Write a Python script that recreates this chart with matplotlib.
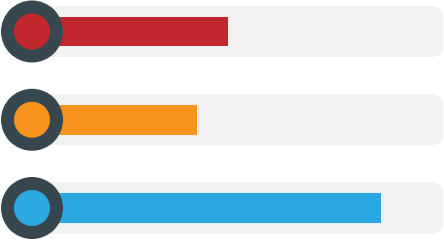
import matplotlib.pyplot as plt
from matplotlib.patches import Ellipse, FancyBboxPatch

# data
labels = ["red", "orange", "blue"]
values = [47.8, 40.2, 84.8]
track_max = 100
bar_colors = ["#C1272D", "#F7941D", "#29A9E0"]
ring_color = "#37474F"
track_color = "#F1F1F1"

# layout (pixels -> data units)
W, H = 444, 240
x0_px = 32          # where value 0 sits (circle centre)
px_per_x = 4.11     # pixels per value unit
row0_px = 31.5      # centre of first row
px_per_y = 88.25    # row spacing

fig = plt.figure(figsize=(W / 100, H / 100), dpi=100)
ax = fig.add_axes([0, 0, 1, 1])
ax.set_xlim(-x0_px / px_per_x, (W - x0_px) / px_per_x)
ax.set_ylim((H - row0_px) / px_per_y, -row0_px / px_per_y)
ax.axis("off")

ys = list(range(len(values)))
track_h = 51 / px_per_y
bar_h = 29.5 / px_per_y

for y in ys:
    track = FancyBboxPatch((0, y - track_h / 2), track_max, track_h,
                           boxstyle="round,pad=0,rounding_size=%f" % (12 / px_per_x),
                           mutation_aspect=px_per_x / px_per_y,
                           facecolor=track_color, edgecolor="none", zorder=1)
    ax.add_patch(track)

ax.barh(ys, values, height=bar_h, left=0, color=bar_colors, zorder=2)

# circles
for y, c in zip(ys, bar_colors):
    ax.add_patch(Ellipse((0, y), 2 * 31 / px_per_x, 2 * 31 / px_per_y,
                         facecolor=ring_color, edgecolor="none", zorder=3))
    ax.add_patch(Ellipse((0, y), 2 * 18 / px_per_x, 2 * 18 / px_per_y,
                         facecolor=c, edgecolor="none", zorder=4))

fig.savefig("out.png", dpi=100)
